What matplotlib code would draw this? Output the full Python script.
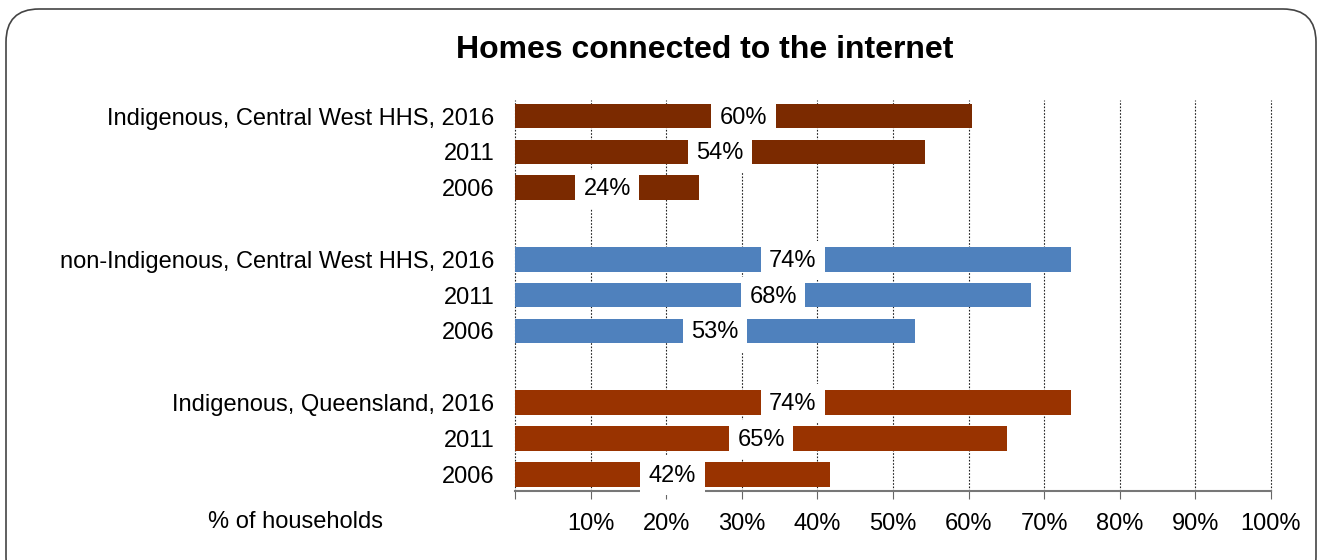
import matplotlib
matplotlib.use("Agg")
import matplotlib.pyplot as plt
from matplotlib.patches import FancyBboxPatch

plt.rcParams['font.family'] = ['Liberation Sans', 'DejaVu Sans']

# Chart data
categories = [
    "Indigenous, Central West HHS, 2016", "2011", "2006", "",
    "non-Indigenous, Central West HHS, 2016", "2011", "2006", "",
    "Indigenous, Queensland, 2016", "2011", "2006",
]
values = [60.4, 54.2, 24.4, None,
          73.5, 68.3, 52.9, None,
          73.5, 65.1, 41.7]
groups = ["ind_cw", "ind_cw", "ind_cw", None,
          "nonind_cw", "nonind_cw", "nonind_cw", None,
          "ind_qld", "ind_qld", "ind_qld"]
x_ticks = [0, 10, 20, 30, 40, 50, 60, 70, 80, 90, 100]
x_tick_labels = ["", "10%", "20%", "30%", "40%", "50%", "60%", "70%", "80%", "90%", "100%"]

colors = {"ind_cw": "#7B2A00", "nonind_cw": "#4F81BD", "ind_qld": "#993300"}

fig = plt.figure(figsize=(13.21, 5.6), dpi=100)
W, H = 1321, 560

# Rounded outer frame
frame = FancyBboxPatch((6 / W, -30 / H), 1310 / W, (560 - 9 + 30) / H,
                       boxstyle="round,pad=0,rounding_size=0.025",
                       transform=fig.transFigure, facecolor="none",
                       edgecolor="#444444", linewidth=1.2, zorder=0,
                       mutation_aspect=W / H)
fig.patches.append(frame)

ax = fig.add_axes([515 / W, 1 - 491 / H, (1271 - 515) / W, (491 - 100) / H])
ax.set_facecolor("none")

positions = list(range(len(categories)))
for pos, val, grp in zip(positions, values, groups):
    if val is None:
        continue
    ax.barh(pos, val, height=0.69, color=colors[grp], zorder=2)
    ax.text(val / 2, pos + 0.04, f"{val:.0f}%", ha="center", va="center",
            fontsize=17, color="black", zorder=3,
            bbox=dict(boxstyle="square,pad=0.36", facecolor="white",
                      edgecolor="none"))

ax.set_xlim(0, 100)
ax.set_ylim(10.47, -0.45)
ax.set_yticks(positions)
ax.set_yticklabels(categories, fontsize=17)
ax.tick_params(axis="y", length=0, pad=15)
ax.set_xticks(x_ticks)
ax.set_xticklabels(x_tick_labels, fontsize=17)
ax.tick_params(axis="x", length=6, color="#666666", pad=10)
ax.grid(axis="x", linestyle=(0, (1.5, 1.5)), color="#222222", linewidth=0.8, zorder=1)
for gl in ax.get_xgridlines():
    gl.set_clip_on(False)
ax.set_axisbelow(True)
for side in ("top", "right", "left"):
    ax.spines[side].set_visible(False)
ax.spines["bottom"].set_color("#777777")
ax.spines["bottom"].set_linewidth(1.5)

fig.text(705 / W, 1 - 50 / H, "Homes connected to the internet",
         ha="center", va="center", fontsize=23, fontweight="bold")
fig.text(296 / W, 1 - 522 / H, "% of households", ha="center", va="center",
         fontsize=17)

fig.savefig("out.png", dpi=100)
